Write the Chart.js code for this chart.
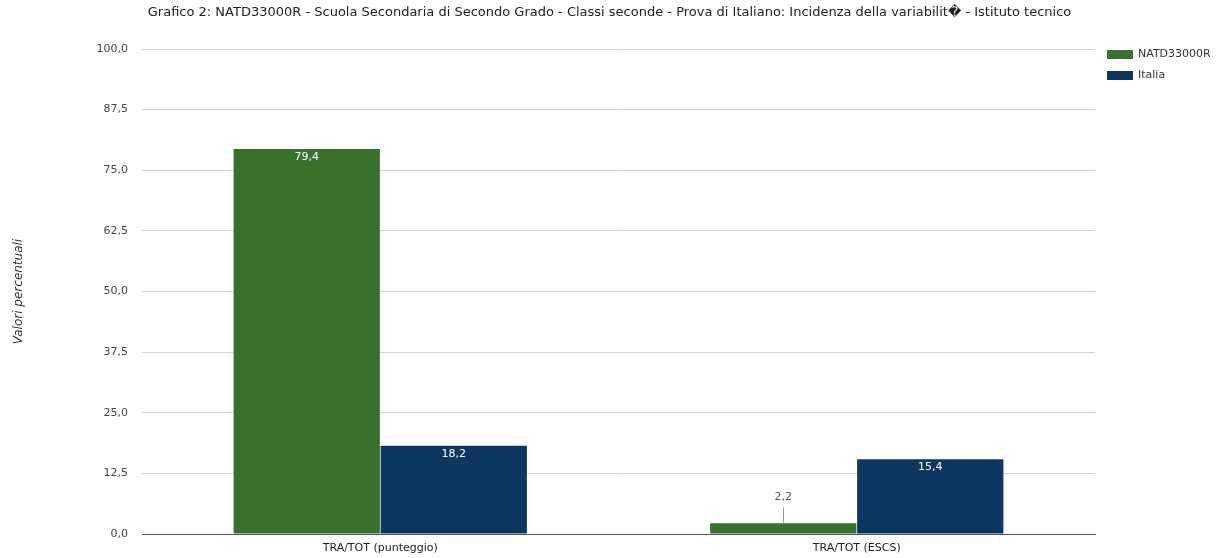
<!DOCTYPE html>
<html><head><meta charset="utf-8">
<script src="https://cdn.jsdelivr.net/npm/chart.js@4/dist/chart.umd.min.js"></script>
<style>html,body{margin:0;padding:0;background:#fff}#wrap{width:1219px;height:558px}</style>
</head><body><div id="wrap"><canvas id="c" width="1219" height="558"></canvas></div>
<script>
const categories = ["TRA/TOT (punteggio)", "TRA/TOT (ESCS)"];
const seriesNames = ["NATD33000R", "Italia"];
const schoolValues = [79.4, 2.2];
const italiaValues = [18.2, 15.4];
const yTicks = [0, 12.5, 25, 37.5, 50, 62.5, 75, 87.5, 100];
const titleText = "Grafico 2: NATD33000R - Scuola Secondaria di Secondo Grado - Classi seconde - Prova di Italiano: Incidenza della variabilit\uFFFD - Istituto tecnico";
const yTitle = "Valori percentuali";
const colors = ["#38702d", "#0d375f"];

const fmt = v => v.toFixed(1).replace('.', ',');
const FONT = "'DejaVu Sans', sans-serif";

const labelPlugin = {
  id: 'valueLabels',
  afterDatasetsDraw(chart) {
    const ctx = chart.ctx;
    ctx.save();
    ctx.font = "11px " + FONT;
    ctx.textAlign = 'center';
    ctx.textBaseline = 'middle';
    chart.data.datasets.forEach((ds, di) => {
      const meta = chart.getDatasetMeta(di);
      meta.data.forEach((bar, i) => {
        const v = ds.data[i];
        const h = bar.base - bar.y;
        if (h > 20) {
          ctx.fillStyle = '#ffffff';
          ctx.fillText(fmt(v), bar.x, bar.y + 8);
        } else {
          ctx.strokeStyle = '#999';
          ctx.lineWidth = 1;
          ctx.beginPath();
          ctx.moveTo(Math.round(bar.x) + 0.5, bar.y);
          ctx.lineTo(Math.round(bar.x) + 0.5, bar.y - 16);
          ctx.stroke();
          ctx.fillStyle = colors[di];
          ctx.fillText(fmt(v), bar.x, bar.y - 26);
        }
      });
    });
    ctx.restore();
  }
};

const titleLegendPlugin = {
  id: 'titleLegend',
  afterDraw(chart) {
    const ctx = chart.ctx;
    ctx.save();
    ctx.font = "13px " + FONT;
    ctx.textBaseline = 'middle';
    ctx.textAlign = 'center';
    ctx.fillStyle = '#222';
    ctx.fillText(titleText, chart.width / 2, 13);
    ctx.font = "11px " + FONT;
    ctx.textAlign = 'left';
    seriesNames.forEach((n, i) => {
      const y = 54 + i * 21;
      ctx.fillStyle = colors[i];
      ctx.fillRect(1107, y - 4, 26, 9);
      ctx.fillStyle = '#333';
      ctx.fillText(n, 1138, y);
    });
    ctx.restore();
  }
};

new Chart(document.getElementById('c'), {
  type: 'bar',
  data: {
    labels: categories,
    datasets: [
      { label: seriesNames[0], data: schoolValues, backgroundColor: colors[0], borderWidth: 0 },
      { label: seriesNames[1], data: italiaValues, backgroundColor: colors[1], borderWidth: 0 }
    ]
  },
  options: {
    responsive: false,
    animation: false,
    devicePixelRatio: 1,
    layout: { padding: { top: 49, right: 124, bottom: 0, left: 0 } },
    datasets: { bar: { categoryPercentage: 0.617, barPercentage: 0.995 } },
    plugins: {
      legend: { display: false },
      tooltip: { enabled: false },
      title: { display: false }
    },
    scales: {
      x: {
        afterFit: s => { s.height = 24; },
        grid: { display: false, drawTicks: false },
        border: { color: '#555', width: 1 },
        ticks: { color: '#222', font: { family: FONT, size: 11 }, padding: 8 }
      },
      y: {
        min: 0, max: 100,
        afterBuildTicks: s => { s.ticks = yTicks.map(v => ({ value: v })); },
        afterFit: s => { s.width = 142; },
        grid: { color: '#d4d4d4', drawTicks: false },
        border: { display: false },
        ticks: { color: '#444', font: { family: FONT, size: 11 }, padding: 14, callback: v => fmt(v) },
        title: { display: true, text: yTitle, color: '#333', font: { family: FONT, size: 12, style: 'italic' }, padding: { top: 12, bottom: 0 } }
      }
    }
  },
  plugins: [labelPlugin, titleLegendPlugin]
});
</script></body></html>
